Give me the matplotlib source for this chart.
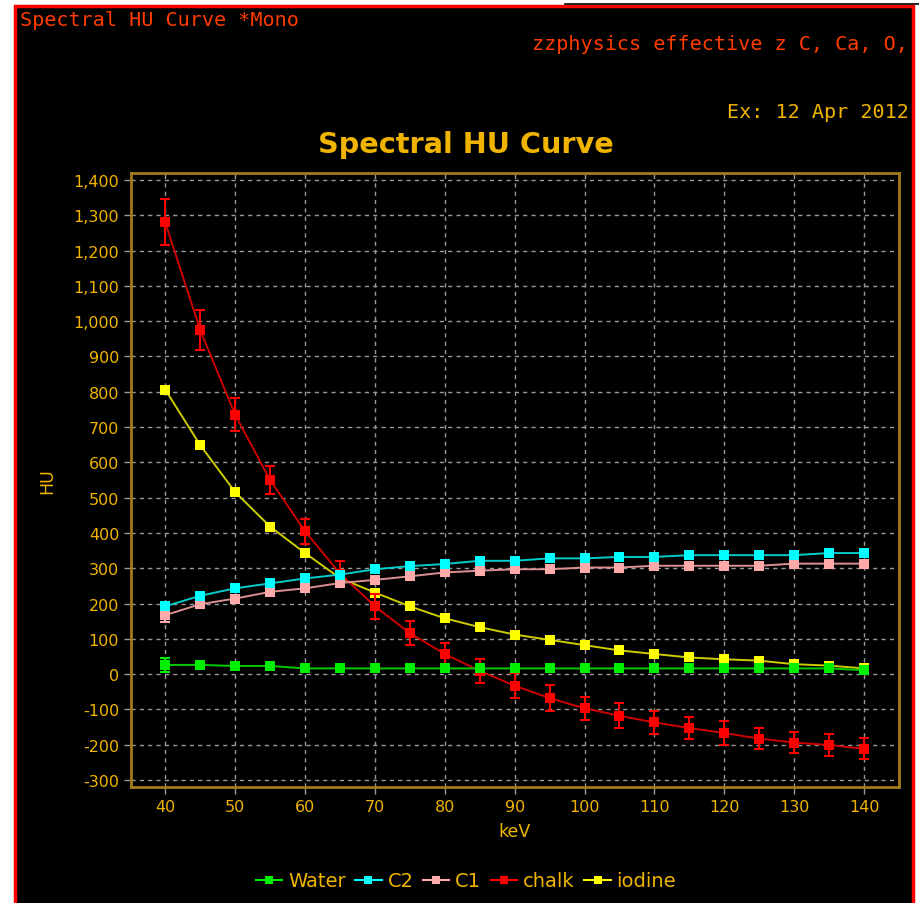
import numpy as np
import matplotlib
matplotlib.use("Agg")
import matplotlib.pyplot as plt
from matplotlib.patches import Rectangle
from matplotlib.lines import Line2D
from matplotlib.ticker import FuncFormatter, MultipleLocator

# energies (keV)
kev = [40, 45, 50, 55, 60, 65, 70, 75, 80, 85, 90, 95, 100, 105, 110, 115, 120, 125, 130, 135, 140]

# mean HU per material
water = [26, 26, 23, 23, 16, 16, 16, 16, 16, 16, 16, 16, 16, 16, 16, 16, 16, 16, 16, 16, 11]
c2 = [192, 222, 243, 257, 271, 282, 297, 306, 312, 321, 321, 328, 328, 332, 332, 337, 337, 337, 337, 343, 343]
c1 = [167, 198, 214, 233, 243, 258, 267, 277, 288, 293, 297, 297, 302, 302, 307, 307, 307, 307, 313, 313, 313]
chalk = [1280, 975, 735, 550, 405, 285, 192, 116, 57, 9, -33, -68, -97, -118, -137, -153, -167, -183, -194, -201, -212]
iodine = [806, 649, 516, 418, 343, 272, 231, 192, 158, 133, 112, 97, 82, 67, 57, 47, 42, 38, 28, 24, 16]

# standard deviations
water_sd = [20, 6, 4, 4, 4, 4, 4, 4, 4, 4, 4, 4, 4, 4, 4, 4, 4, 4, 4, 4, 4]
c2_sd = [8, 6, 5, 5, 5, 5, 5, 5, 5, 5, 5, 5, 5, 5, 5, 5, 5, 5, 5, 5, 5]
c1_sd = [18, 12, 8, 6, 6, 5, 5, 5, 5, 5, 5, 5, 5, 5, 5, 5, 5, 5, 5, 5, 5]
chalk_sd = [65, 58, 47, 40, 35, 35, 35, 35, 30, 34, 35, 36, 32, 36, 33, 32, 33, 30, 31, 30, 30]
iodine_sd = [8, 7, 6, 5, 5, 5, 5, 5, 5, 5, 5, 5, 5, 5, 5, 5, 5, 5, 5, 5, 5]

series = [
    ("Water", water, water_sd, "#00ee00", "#00cc00", 6),
    ("C2", c2, c2_sd, "#00ffff", "#00cccc", 5),
    ("C1", c1, c1_sd, "#ffaaaa", "#dd9090", 4),
    ("chalk", chalk, chalk_sd, "#ff0000", "#cc0000", 3),
    ("iodine", iodine, iodine_sd, "#ffff00", "#cccc00", 2),
]

gold = "#f0b400"
frame = "#a07c1c"

fig = plt.figure(figsize=(9.19, 9.04), dpi=100, facecolor="white")
W, H = 919, 904

# black panel with red border (runs off the bottom edge)
fig.patches.append(Rectangle((15 / W, -0.02), (913 - 15) / W, 1.02 - 7 / H,
                             transform=fig.transFigure, facecolor="black",
                             edgecolor="#ff0000", linewidth=2.5, zorder=-5))
fig.add_artist(Line2D([565 / W, 1], [1 - 4.5 / H, 1 - 4.5 / H], color="black",
                      linewidth=1.2, transform=fig.transFigure, zorder=-4))

ax = fig.add_axes([131 / W, 1 - 788 / H, (899 - 131) / W, (788 - 174) / H])
ax.set_facecolor("black")

for name, y, sd, c, lc, z in series:
    ax.plot(kev, y, color=lc, linewidth=1.4, zorder=z)
    ax.errorbar(kev, y, yerr=sd, fmt="none", ecolor=c, elinewidth=1.5,
                capsize=3.5, capthick=1.5, zorder=z + 0.1)
    ax.plot(kev, y, linestyle="none", marker="s", markersize=7,
            color=c, markeredgewidth=0, zorder=z + 0.2, label=name)

ax.set_xlim(35.1, 145.0)
ax.set_ylim(-320, 1420)
ax.xaxis.set_major_locator(MultipleLocator(10))
ax.yaxis.set_major_locator(MultipleLocator(100))
ax.yaxis.set_major_formatter(FuncFormatter(lambda v, p: f"{int(v):,}"))

ax.grid(True, color="#9a9a9a", linestyle=(0, (3, 3)), linewidth=1.0)
ax.set_axisbelow(True)
for s in ax.spines.values():
    s.set_color(frame)
    s.set_linewidth(2)
ax.tick_params(colors="#9a9a9a", labelcolor=gold, labelsize=11.5, length=5, width=1)

ax.set_xlabel("keV", color=gold, fontsize=12.5, labelpad=6)
ax.set_ylabel("HU", color=gold, fontsize=12.5, labelpad=12)

fig.text(466 / W, 1 - 145 / H, "Spectral HU Curve", color=gold, fontsize=20.7,
         fontweight="bold", ha="center", va="center")

# header annotations
mono = dict(family="DejaVu Sans Mono", fontsize=14.5)
fig.text(20 / W, 1 - 21 / H, "Spectral HU Curve *Mono", color="#ff3c00",
         ha="left", va="center", **mono)
fig.text(908 / W, 1 - 45 / H, "zzphysics effective z C, Ca, O,", color="#ff3c00",
         ha="right", va="center", **mono)
fig.text(909 / W, 1 - 113 / H, "Ex: 12 Apr 2012", color=gold,
         ha="right", va="center", **mono)

handles = [Line2D([], [], color=c, linewidth=1.5, marker="s", markersize=5.5,
                  markeredgewidth=0) for _, _, _, c, _, _ in series]
fig.legend(handles, [s[0] for s in series], loc="center",
           bbox_to_anchor=(466 / W, 1 - 882 / H), ncol=5, frameon=False,
           labelcolor=gold, fontsize=14, handlelength=1.35, handletextpad=0.3,
           columnspacing=0.5)

fig.savefig("out.png", dpi=100, facecolor="white")
